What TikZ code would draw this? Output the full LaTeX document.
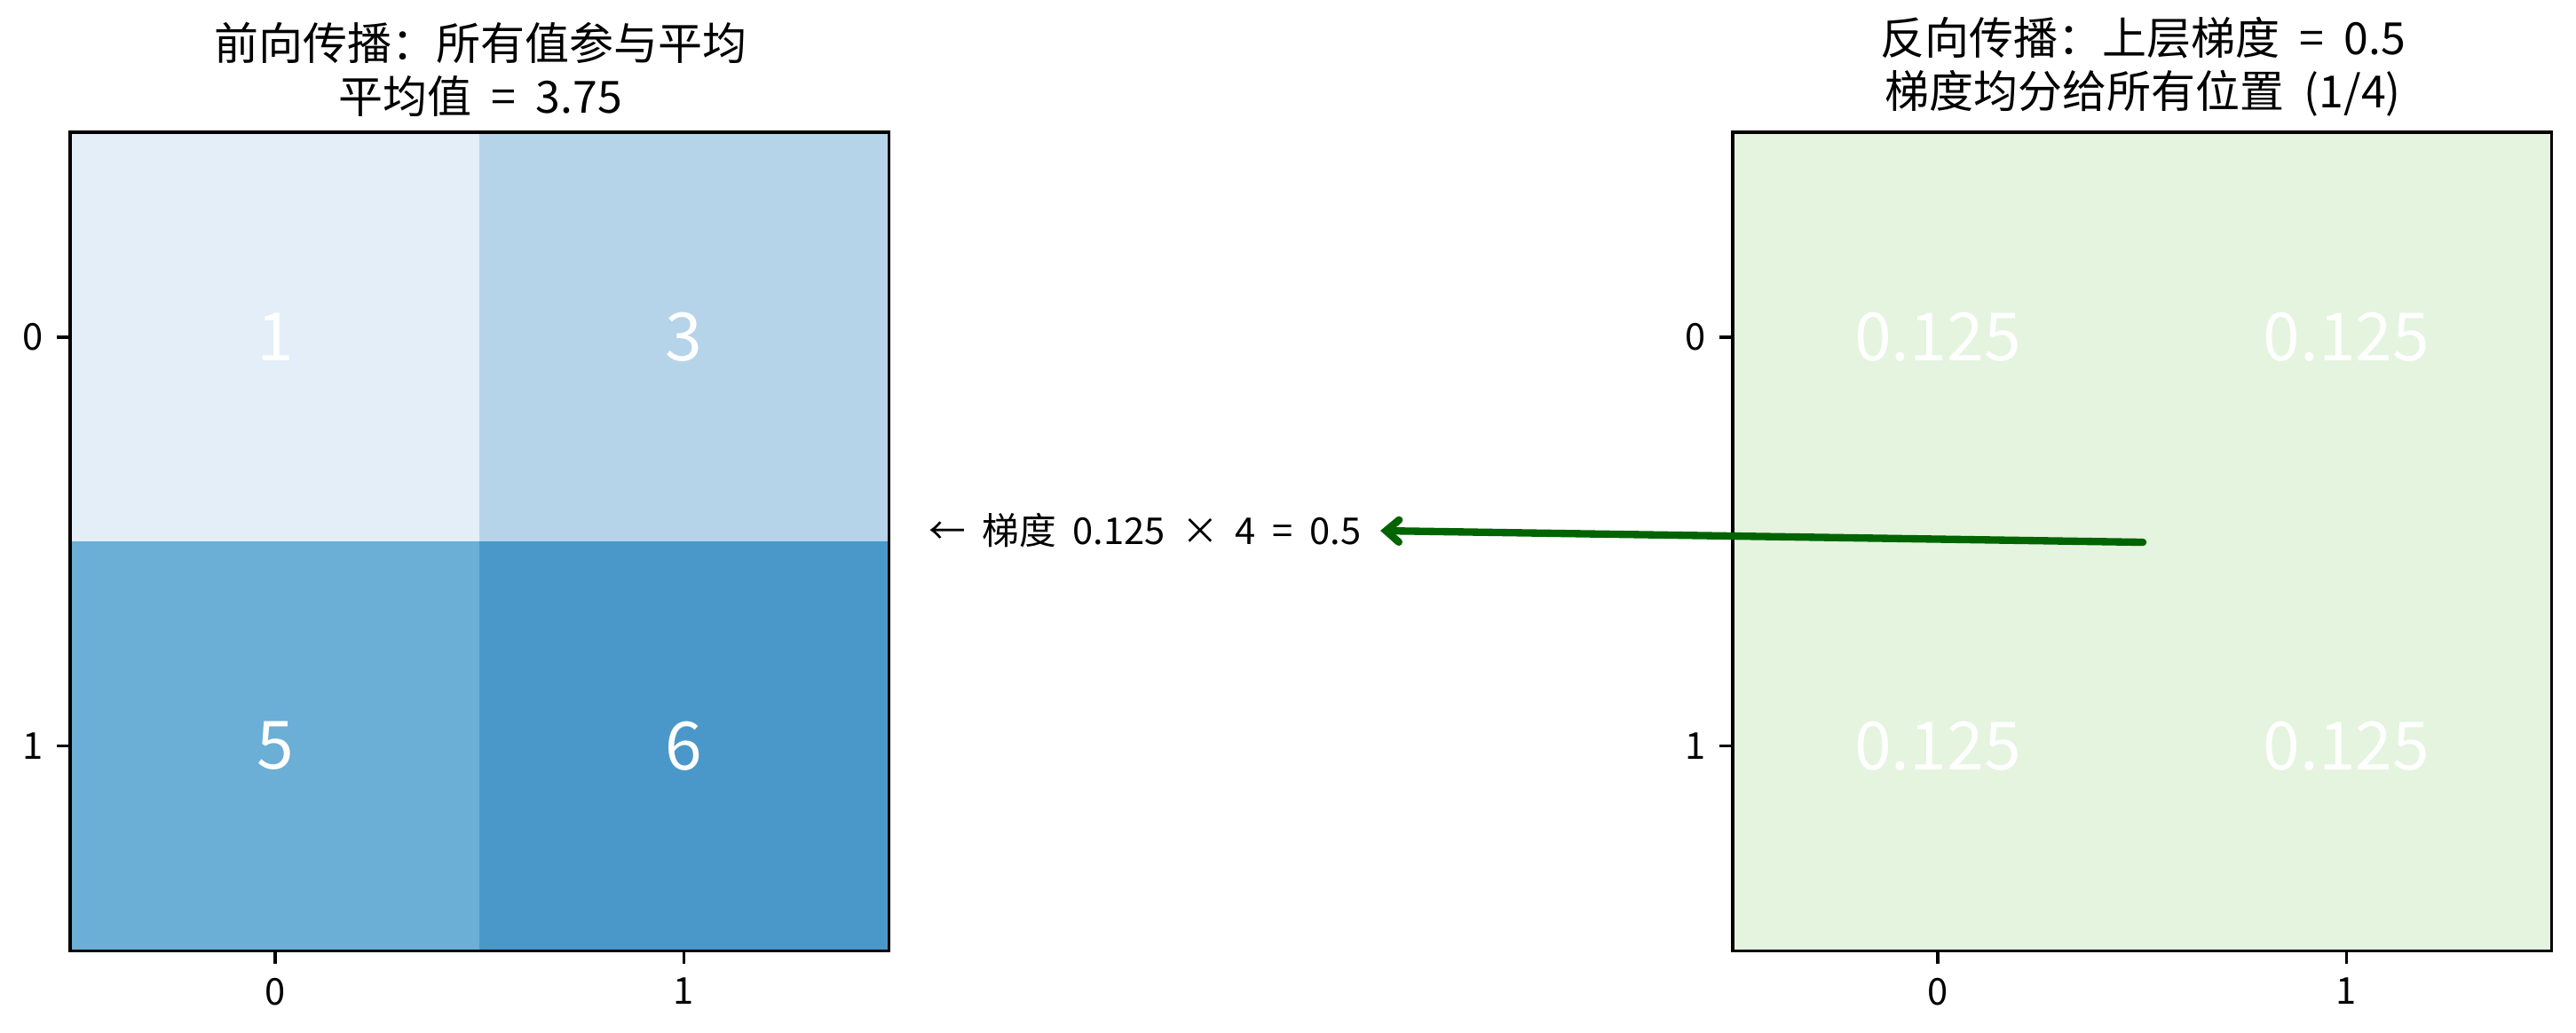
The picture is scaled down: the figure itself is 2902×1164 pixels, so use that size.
\documentclass[tikz,border=0pt]{standalone}
\usepackage{fontspec}
\setmainfont[WordSpace=2]{Noto Sans CJK SC}
\usetikzlibrary{arrows.meta}

\definecolor{blueA}{HTML}{E3EEF8}
\definecolor{blueB}{HTML}{B6D4E9}
\definecolor{blueC}{HTML}{6BAED6}
\definecolor{blueD}{HTML}{4A98C9}
\definecolor{greenA}{HTML}{E4F4DF}
\definecolor{arrowgreen}{HTML}{006400}

\begin{document}
\begin{tikzpicture}[x=0.24pt,y=-0.24pt,node distance=110.5pt,
    >={Straight Barb[length=3.5pt,width=6pt,line cap=round]}]
      \tikzstyle{cell}=[rectangle,inner sep=0pt,minimum size=110.5pt,text=white,font=\fontsize{18}{20}\selectfont]
      \tikzstyle{axbox}=[draw=black,line width=0.8pt]
      \tikzstyle{tickmark}=[line width=0.8pt]
      \tikzstyle{ticklab}=[inner sep=0pt,font=\fontsize{10}{12}\selectfont]
      \tikzstyle{heading}=[anchor=south,align=center,inner sep=0pt,font=\fontsize{12}{14.4}\selectfont]
      \useasboundingbox (0,0) rectangle (2902,1164);

      \begin{scope}
        \node[cell,fill=blueA](a00) at (310,380){1};
        \node[cell,fill=blueB](a01)[right of=a00]{3};
        \node[cell,fill=blueC](a10)[below of=a00]{5};
        \node[cell,fill=blueD](a11)[right of=a10]{6};

        \draw[axbox] (a00.north west) rectangle (a11.south east);

        \draw[tickmark] (a00.west) -- ++(-3.5pt,0) node[ticklab,anchor=east,xshift=-3.5pt](ay0){0};
        \draw[tickmark] (a10.west) -- ++(-3.5pt,0) node[ticklab,anchor=east,xshift=-3.5pt](ay1){1};
        \draw[tickmark] (a10.south) -- ++(0,-3.5pt) node[ticklab,anchor=north,yshift=-3.5pt](ax0){0};
        \draw[tickmark] (a11.south) -- ++(0,-3.5pt) node[ticklab,anchor=north,yshift=-3.5pt](ax1){1};

        \node[heading,yshift=4pt](fwdttl) at (a00.north east)
          {前向传播：所有值参与平均\\平均值 = 3.75};
      \end{scope}

      \begin{scope}
        \node[cell,fill=greenA](g00) at (2183,380){0.125};
        \node[cell,fill=greenA](g01)[right of=g00]{0.125};
        \node[cell,fill=greenA](g10)[below of=g00]{0.125};
        \node[cell,fill=greenA](g11)[right of=g10]{0.125};

        \draw[axbox] (g00.north west) rectangle (g11.south east);

        \draw[tickmark] (g00.west) -- ++(-3.5pt,0) node[ticklab,anchor=east,xshift=-3.5pt](gy0){0};
        \draw[tickmark] (g10.west) -- ++(-3.5pt,0) node[ticklab,anchor=east,xshift=-3.5pt](gy1){1};
        \draw[tickmark] (g10.south) -- ++(0,-3.5pt) node[ticklab,anchor=north,yshift=-3.5pt](gx0){0};
        \draw[tickmark] (g11.south) -- ++(0,-3.5pt) node[ticklab,anchor=north,yshift=-3.5pt](gx1){1};

        \node[heading,yshift=4pt](bwdttl) at (g00.north east)
          {反向传播：上层梯度 = 0.5\\梯度均分给所有位置 (1/4)};
      \end{scope}

      \node[ticklab,anchor=east,inner sep=5pt](sumlabel) at (1555,598)
        {← 梯度 0.125 × 4 = 0.5};

      \path[->,arrowgreen,line width=2pt,line cap=round]
      (g00.south east) edge (sumlabel.east);
    \end{tikzpicture}
\end{document}
